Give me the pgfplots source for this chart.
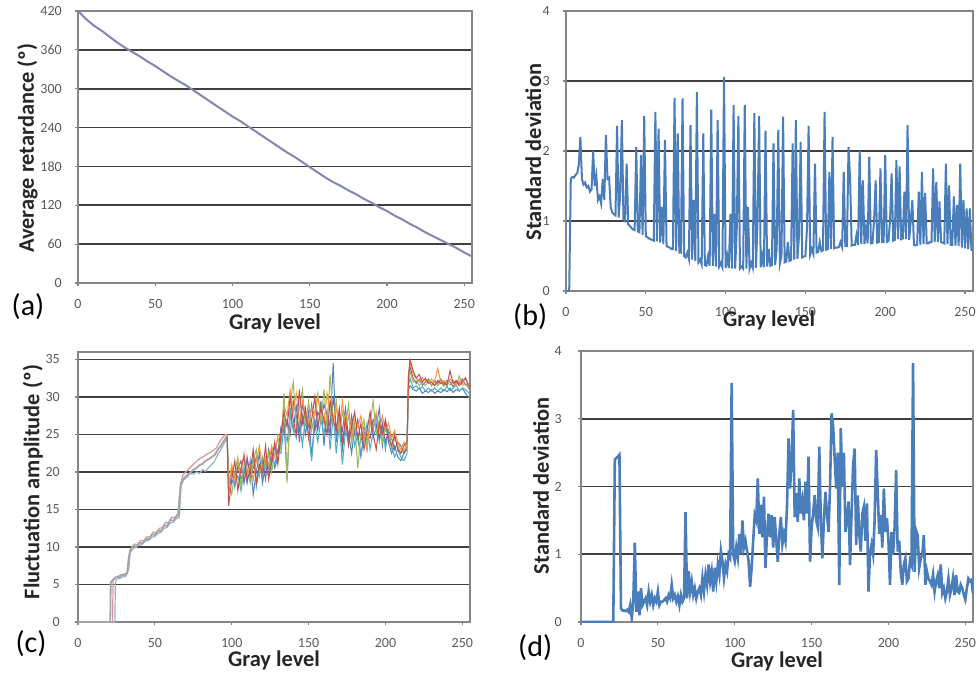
\documentclass[border=0pt]{standalone}
\usepackage{fontspec}
\setmainfont{Carlito}
\usepackage{pgfplots}
\pgfplotsset{compat=1.18}

\definecolor{xlblue}{HTML}{4A7EBB}
\definecolor{retline}{HTML}{8585B3}
\definecolor{gridc}{HTML}{404040}
\definecolor{axc}{HTML}{868686}
\definecolor{tickc}{HTML}{595959}
\definecolor{sA}{HTML}{4F81BD}
\definecolor{sB}{HTML}{C0504D}
\definecolor{sC}{HTML}{9BBB59}
\definecolor{sD}{HTML}{8064A2}
\definecolor{sE}{HTML}{4BACC6}
\definecolor{sF}{HTML}{F79646}
\definecolor{smA}{HTML}{A5A5A5}
\definecolor{smB}{HTML}{D99694}
\definecolor{smC}{HTML}{95B3D7}

\tikzset{letter/.style={font=\fontsize{15}{17}\selectfont, text=black}}
\pgfplotsset{
  panel/.style={
    scale only axis, anchor=south west,
    xmin=0, xmax=255, xtick={0,50,...,250}, ymin=0,
    tick align=outside, tick pos=left, major tick length=1.6pt,
    tick style={axc, line width=0.6pt},
    axis line style={axc, line width=0.6pt},
    ymajorgrids, grid style={gridc, line width=0.9pt},
    /pgf/number format/assume math mode=true,
    tick label style={font=\fontsize{7}{8}\selectfont, text=tickc},
    label style={font=\fontsize{11.2}{13}\selectfont\bfseries, text=black!85},
    xticklabel style={yshift=-3.3pt},
    yticklabel style={xshift=-3pt},
    xlabel={Gray level},
    clip mode=individual,
  },
}

\begin{document}
\begin{tikzpicture}
\path[use as bounding box] (0,0) rectangle (489.5pt,338pt);

% (a) average retardance
\begin{axis}[panel, at={(39pt,196.5pt)}, width=197pt, height=136pt,
  ymax=420, ytick={0,60,...,420},
  ylabel={Average retardance (º)},
  xlabel style={at={(axis description cs:0.5,-0.147)}, anchor=center},
  ylabel style={at={(axis description cs:-0.128,0.496)}, anchor=center}]
\addplot[retline, line width=1pt] coordinates {
(0,420) (5,408) (10,398) (15,390) (20,381) (25,372) (30,364) (35,357) (40,350)
(45,342) (50,335) (55,327) (60,319) (65,312) (70,305) (75,297) (80,289) (85,281)
(90,273) (95,265) (100,257) (105,250) (110,242) (115,234) (120,226) (125,218)
(130,210) (135,202) (140,195) (145,187) (150,179) (155,171) (160,163) (165,156)
(170,150) (175,143) (180,137) (185,130) (190,124) (195,117) (200,111) (205,104)
(210,98) (215,91) (220,85) (225,78) (230,72) (235,66) (240,60) (245,54) (250,47) (255,41)};
\node[letter] at (axis description cs:-0.127,-0.088) {(a)};
\end{axis}

% (b) standard deviation of retardance
\begin{axis}[panel, at={(283pt,192.5pt)}, width=203.5pt, height=140pt,
  ymax=4, ytick={0,1,...,4},
  ylabel={Standard deviation},
  xlabel style={at={(axis description cs:0.499,-0.104)}, anchor=center},
  ylabel style={at={(axis description cs:-0.08,0.496)}, anchor=center}]
\addplot[xlblue, line width=1pt] coordinates {
(0,0) (1,0) (2,0) (3,1.6) (4,1.63) (5,1.62) (6,1.66) (7,1.68) (8,1.8) (9,2.2) (10,1.6)
(11,1.52) (12,1.55) (13,1.48) (14,1.5) (15,1.42) (16,1.45) (17,2.0) (18,1.5) (19,1.65)
(20,1.3) (21,1.35) (22,1.25) (23,1.6) (24,1.3) (25,2.23) (26,1.6) (27,1.62) (28,1.2)
(29,1.12) (30,1.1) (31,1.08) (32,2.36) (33,1.05) (34,1.4) (35,2.44) (36,1.02) (37,1.0)
(38,1.82) (39,0.95) (40,0.93) (41,0.9) (42,0.88) (43,0.87) (44,2.06) (45,0.85) (46,0.84)
(47,1.94) (48,0.8) (49,2.5) (50,0.78) (51,0.77) (52,0.75) (53,0.74) (54,0.73) (55,0.72)
(56,2.56) (57,0.71) (58,2.32) (59,0.69) (60,1.2) (61,0.67) (62,2.16) (63,0.64) (64,0.63)
(65,0.62) (66,0.6) (67,0.6) (68,2.76) (69,0.57) (70,2.25) (71,0.55) (72,0.55) (73,2.75)
(74,0.5) (75,0.48) (76,0.55) (77,0.46) (78,2.37) (79,0.45) (80,1.3) (81,0.43) (82,2.84)
(83,0.41) (84,0.45) (85,0.38) (86,2.25) (87,0.37) (88,0.36) (89,0.5) (90,0.36) (91,2.59)
(92,0.36) (93,1.1) (94,0.35) (95,2.44) (96,0.35) (97,0.4) (98,0.34) (99,3.06) (100,0.33)
(101,0.5) (102,0.33) (103,1.1) (104,0.32) (105,2.66) (106,0.32) (107,0.9) (108,2.5)
(109,0.32) (110,0.35) (111,0.32) (112,2.66) (113,0.32) (114,1.2) (115,0.32) (116,0.4)
(117,0.33) (118,2.54) (119,0.33) (120,1.0) (121,2.5) (122,0.34) (123,0.5) (124,0.34)
(125,2.29) (126,0.35) (127,0.6) (128,0.36) (129,0.37) (130,2.11) (131,0.37) (132,0.6)
(133,2.3) (134,0.39) (135,0.5) (136,2.49) (137,0.41) (138,0.42) (139,0.7) (140,0.43)
(141,0.44) (142,2.11) (143,0.45) (144,2.44) (145,0.46) (146,0.8) (147,2.13) (148,0.48)
(149,0.49) (150,0.5) (151,0.9) (152,2.36) (153,0.52) (154,0.6) (155,0.53) (156,1.82)
(157,0.55) (158,0.56) (159,0.7) (160,0.57) (161,0.58) (162,2.56) (163,0.59) (164,0.6)
(165,1.7) (166,0.6) (167,2.2) (168,0.61) (169,0.62) (170,0.62) (171,0.63) (172,0.7)
(173,0.63) (174,1.7) (175,0.64) (176,0.64) (177,2.06) (178,1.6) (179,0.65) (180,0.66)
(181,0.66) (182,0.8) (183,0.66) (184,2.0) (185,0.67) (186,1.58) (187,0.67) (188,0.9)
(189,0.68) (190,1.92) (191,0.68) (192,0.68) (193,1.0) (194,1.58) (195,0.69) (196,0.7)
(197,1.75) (198,0.7) (199,0.7) (200,1.94) (201,0.7) (202,0.71) (203,1.0) (204,1.68)
(205,0.72) (206,0.73) (207,1.87) (208,0.74) (209,1.78) (210,0.74) (211,0.75) (212,1.42)
(213,0.74) (214,2.37) (215,0.73) (216,1.0) (217,1.3) (218,0.66) (219,0.65) (220,0.66)
(221,1.42) (222,0.66) (223,1.7) (224,0.67) (225,1.4) (226,0.68) (227,0.68) (228,0.7)
(229,0.7) (230,1.75) (231,0.7) (232,1.56) (233,0.7) (234,1.28) (235,0.7) (236,0.69)
(237,0.68) (238,1.82) (239,0.67) (240,1.51) (241,0.66) (242,0.66) (243,1.35) (244,0.65)
(245,1.23) (246,0.64) (247,1.82) (248,0.62) (249,1.3) (250,0.61) (251,1.18) (252,0.6)
(253,1.18) (254,0.59) (255,0.58)};
\node[letter] at (axis description cs:-0.088,-0.093) {(b)};
\end{axis}

% (c) fluctuation amplitude
\begin{axis}[panel, at={(39pt,27pt)}, width=196pt, height=135pt,
  ymax=36, ytick={0,5,...,35},
  yticklabel style={xshift=-1pt},
  ylabel={Fluctuation amplitude (º)},
  xlabel style={at={(axis description cs:0.5,-0.144)}, anchor=center},
  ylabel style={at={(axis description cs:-0.115,0.518)}, anchor=center}]
\addplot[smC, line width=0.6pt] coordinates {
(0,0) (24,0) (24.3,5.2) (25,5.7) (27,5.8) (29,6.0) (31,6.1) (33,7.0) (34,9.3) (36,9.8)
(38,10.1) (40,10.2) (42,10.4) (44,10.8) (46,10.9) (48,11.3) (50,11.4) (52,11.8) (54,12.0)
(56,12.5) (58,12.6) (60,13.2) (62,13.3) (64,13.8) (66,14.0) (67,18.2) (69,19.0) (71,19.3)
(73,19.8) (75,19.7) (77,20.0) (79,19.8) (81,20.3) (83,20.1) (85,20.6) (87,21.0) (89,21.5)
(91,22.4) (93,23.0) (95,23.8) (97,24.5)};
\addplot[smB, line width=0.6pt] coordinates {
(0,0) (22.5,0) (22.8,5.5) (24,5.9) (26,6.1) (28,6.3) (30,6.4) (32,6.5) (33.5,9.2) (35,10.0)
(37,10.4) (39,10.3) (41,10.9) (43,10.8) (45,11.4) (47,11.3) (49,12.0) (51,11.9) (53,12.5)
(55,12.6) (57,13.3) (59,13.2) (61,14.0) (63,13.9) (65,14.5) (66.5,18.0) (68,19.5) (70,20.0)
(72,20.4) (74,20.8) (76,21.2) (78,21.6) (80,21.9) (82,22.1) (84,22.4) (86,22.6) (88,22.9)
(90,23.2) (92,24.0) (94,24.6) (96,25.0) (97,25.0)};
\addplot[smA, line width=0.9pt] coordinates {
(0,0) (21,0) (21.3,5.3) (23,5.7) (25,6.0) (27,6.0) (29,6.3) (31,6.2) (32,6.6) (33,8.5)
(34,9.6) (36,10.2) (38,10.0) (40,10.6) (42,10.5) (44,11.1) (46,11.0) (48,11.7) (50,11.6)
(52,12.2) (54,12.1) (56,12.9) (58,12.8) (60,13.6) (62,13.5) (64,14.1) (65,14.2) (66,16.0)
(67,18.6) (69,19.2) (71,19.6) (73,19.9) (75,20.3) (77,20.5) (79,20.9) (81,21.1) (83,21.5)
(85,21.7) (87,22.0) (89,22.3) (91,23.0) (93,23.5) (95,24.2) (97,24.8)};
\addplot[sA, line width=0.5pt] coordinates {
(97,24.8) (98,17.5) (100,20.5) (102,18.0) (104,21.0) (106,19.0) (108,20.5) (110,18.5)
(112,21.5) (114,17.0) (116,20.0) (118,22.5) (120,18.5) (122,21.0) (124,19.5) (126,23.0)
(128,20.5) (130,22.0) (132,24.0) (134,27.0) (136,19.0) (138,28.5) (140,25.5) (142,29.0)
(144,24.0) (146,27.5) (148,25.0) (150,28.0) (152,22.0) (154,27.0) (156,25.5) (158,29.5)
(160,23.5) (162,28.0) (164,26.0) (166,34.5) (168,24.0) (170,27.5) (172,23.0) (174,26.5)
(176,25.0) (178,22.5) (180,26.0) (182,24.5) (184,22.0) (186,25.5) (188,23.0) (190,27.0)
(192,24.5) (194,26.0) (196,28.5) (198,23.5) (200,26.5) (202,24.0) (204,22.5) (206,23.5)
(208,22.0) (210,21.5) (212,22.5) (214,23.0) (215,31.0) (216,31.5) (218,31.0) (220,30.8)
(222,31.2) (224,30.5) (226,30.8) (228,30.6) (230,31.0) (232,30.5) (234,30.8) (236,30.6)
(238,31.0) (240,30.7) (242,31.2) (244,30.6) (246,31.0) (248,30.8) (250,31.2) (252,30.5)
(254,30.0) (255,29.8)};
\addplot[sE, line width=0.5pt] coordinates {
(97,24.6) (98,17.0) (100,20.0) (102,18.5) (104,19.5) (106,17.5) (108,20.0) (110,21.5)
(112,19.0) (114,22.0) (116,18.0) (118,20.5) (120,19.5) (122,21.5) (124,20.5) (126,22.0)
(128,21.0) (130,23.0) (132,22.5) (134,26.0) (136,24.0) (138,27.5) (140,26.0) (142,24.5)
(144,27.0) (146,23.5) (148,27.5) (150,25.0) (152,21.5) (154,26.5) (156,24.0) (158,27.0)
(160,25.0) (162,28.0) (164,23.0) (166,27.5) (168,22.5) (170,26.5) (172,21.0) (174,25.5)
(176,24.0) (178,26.5) (180,23.5) (182,25.0) (184,22.5) (186,24.0) (188,26.5) (190,23.0)
(192,25.5) (194,27.5) (196,24.0) (198,26.0) (200,23.0) (202,25.5) (204,23.5) (206,22.0)
(208,23.0) (210,22.0) (212,21.5) (214,22.5) (215,31.5) (216,32.5) (218,31.2) (220,31.5)
(222,31.0) (224,31.4) (226,30.8) (228,31.2) (230,30.8) (232,31.2) (234,30.8) (236,31.2)
(238,30.8) (240,31.4) (242,30.8) (244,31.2) (246,31.6) (248,30.8) (250,31.2) (252,31.0)
(254,30.6) (255,30.4)};
\addplot[sD, line width=0.5pt] coordinates {
(97,24.9) (98,19.0) (100,18.5) (102,19.5) (104,20.5) (106,21.5) (108,18.5) (110,22.0)
(112,19.5) (114,20.5) (116,22.0) (118,20.0) (120,21.5) (122,19.0) (124,23.0) (126,21.0)
(128,23.5) (130,22.5) (132,26.0) (134,25.5) (136,27.0) (138,25.0) (140,29.5) (142,27.5)
(144,25.5) (146,29.0) (148,27.0) (150,26.0) (152,29.0) (154,25.5) (156,28.0) (158,27.0)
(160,29.0) (162,27.5) (164,25.0) (166,30.0) (168,26.0) (170,27.0) (172,25.5) (174,28.5)
(176,24.5) (178,27.5) (180,25.0) (182,27.0) (184,24.0) (186,26.0) (188,25.0) (190,24.5)
(192,27.0) (194,26.0) (196,24.5) (198,26.5) (200,24.0) (202,25.5) (204,24.5) (206,23.0)
(208,24.0) (210,23.5) (212,22.5) (214,23.5) (215,32.5) (216,34.0) (218,32.5) (220,31.8)
(222,32.4) (224,31.6) (226,32.0) (228,32.4) (230,31.5) (232,32.2) (234,31.8) (236,32.4)
(238,31.6) (240,32.2) (242,32.0) (244,31.4) (246,32.0) (248,31.8) (250,32.4) (252,31.6)
(254,31.8) (255,31.2)};
\addplot[sC, line width=0.5pt] coordinates {
(97,24.8) (98,18.5) (100,17.0) (102,20.0) (104,22.0) (106,18.0) (108,21.0) (110,20.5)
(112,18.5) (114,21.5) (116,23.0) (118,19.5) (120,22.0) (122,20.5) (124,22.5) (126,20.0)
(128,22.5) (130,24.5) (132,23.0) (134,30.5) (136,18.5) (138,29.0) (140,32.0) (142,26.0)
(144,28.5) (146,31.0) (148,26.0) (150,29.5) (152,25.5) (154,28.0) (156,30.5) (158,26.5)
(160,31.0) (162,26.0) (164,33.0) (166,26.5) (168,29.5) (170,25.0) (172,28.0) (174,26.0)
(176,29.0) (178,24.0) (180,26.5) (182,20.5) (184,25.0) (186,27.0) (188,24.0) (190,26.5)
(192,29.5) (194,25.0) (196,27.0) (198,24.0) (200,26.0) (202,25.5) (204,23.0) (206,24.5)
(208,23.5) (210,22.5) (212,23.0) (214,23.5) (215,32.0) (216,33.5) (218,32.0) (220,32.2)
(222,31.5) (224,32.0) (226,31.5) (228,32.2) (230,31.6) (232,32.0) (234,31.5) (236,32.0)
(238,31.4) (240,32.0) (242,31.6) (244,32.2) (246,31.5) (248,32.8) (250,31.6) (252,31.8)
(254,31.2) (255,30.8)};
\addplot[sF, line width=0.5pt] coordinates {
(97,25.0) (98,18.0) (100,21.0) (102,19.0) (104,21.5) (106,20.0) (108,22.5) (110,19.5)
(112,21.0) (114,19.0) (116,21.5) (118,23.5) (120,20.5) (122,22.0) (124,21.0) (126,23.5)
(128,22.0) (130,25.0) (132,24.5) (134,29.0) (136,27.5) (138,31.0) (140,28.0) (142,30.5)
(144,26.5) (146,29.5) (148,28.0) (150,26.5) (152,28.5) (154,27.5) (156,30.0) (158,28.0)
(160,26.5) (162,30.5) (164,28.0) (166,26.5) (168,28.5) (170,26.0) (172,29.5) (174,25.5)
(176,27.5) (178,25.0) (180,27.0) (182,26.0) (184,27.5) (186,25.0) (188,23.0) (190,26.5)
(192,26.0) (194,28.0) (196,25.5) (198,27.5) (200,25.5) (202,26.5) (204,24.5) (206,25.5)
(208,24.0) (210,23.0) (212,24.0) (214,23.0) (215,33.0) (216,34.5) (218,33.0) (220,32.5)
(222,32.0) (224,32.6) (226,32.2) (228,31.8) (230,32.4) (232,32.0) (234,33.8) (236,32.0)
(238,32.2) (240,31.8) (242,32.4) (244,32.0) (246,31.6) (248,32.2) (250,31.8) (252,32.6)
(254,31.6) (255,31.4)};
\addplot[sB, line width=0.5pt] coordinates {
(97,24.7) (98,15.5) (100,19.0) (102,21.5) (104,17.5) (106,20.5) (108,22.0) (110,19.0)
(112,20.0) (114,23.0) (116,18.5) (118,21.0) (120,20.0) (122,23.5) (124,19.0) (126,21.5)
(128,24.0) (130,21.0) (132,25.0) (134,28.0) (136,26.0) (138,30.0) (140,27.0) (142,25.0)
(144,31.0) (146,26.5) (148,28.5) (150,24.5) (152,27.0) (154,30.0) (156,26.0) (158,28.5)
(160,27.0) (162,25.0) (164,29.5) (166,27.0) (168,25.5) (170,28.5) (172,24.0) (174,27.0)
(176,23.5) (178,26.0) (180,28.0) (182,24.5) (184,26.5) (186,23.0) (188,25.5) (190,28.0)
(192,25.0) (194,23.0) (196,26.5) (198,25.0) (200,27.0) (202,24.5) (204,23.5) (206,25.0)
(208,23.0) (210,22.5) (212,23.5) (214,24.0) (215,33.0) (216,35.0) (218,33.5) (220,32.5)
(222,33.0) (224,32.0) (226,32.5) (228,31.8) (230,32.0) (232,31.5) (234,32.2) (236,31.8)
(238,32.0) (240,31.5) (242,33.5) (244,31.8) (246,32.2) (248,31.5) (250,32.0) (252,32.5)
(254,31.5) (255,31.0)};
\node[letter] at (axis description cs:-0.12,-0.081) {(c)};
\end{axis}

% (d) standard deviation of fluctuation amplitude
\begin{axis}[panel, at={(290.5pt,27pt)}, width=196pt, height=135.5pt,
  ymax=4, ytick={0,1,...,4},
  yticklabel style={xshift=-1.5pt},
  ylabel={Standard deviation},
  xlabel style={at={(axis description cs:0.5,-0.144)}, anchor=center},
  ylabel style={at={(axis description cs:-0.102,0.502)}, anchor=center}]
\addplot[xlblue, line width=1.3pt] coordinates {
(0,0) (21,0) (22,2.4) (23,2.42) (24,2.44) (25,2.47) (26,0.2) (27,0.17) (28,0.17) (29,0.16)
(30,0.18) (31,0.15) (32,0.25) (33,0.06) (34,0.3) (35,1.17) (36,0.15) (37,0.45) (38,0.1)
(39,0.5) (40,0.25) (41,0.3) (42,0.35) (43,0.25) (44,0.45) (45,0.3) (46,0.4) (47,0.25)
(48,0.35) (49,0.3) (50,0.45) (51,0.25) (52,0.3) (53,0.3) (54,0.32) (55,0.35) (56,0.3)
(57,0.4) (58,0.35) (59,0.55) (60,0.35) (61,0.4) (62,0.3) (63,0.38) (64,0.25) (65,0.4)
(66,0.3) (67,0.35) (68,1.62) (69,0.35) (70,0.75) (71,0.45) (72,0.6) (73,0.4) (74,0.5)
(75,0.35) (76,0.45) (77,0.5) (78,0.4) (79,0.65) (80,0.45) (81,0.7) (82,0.55) (83,0.85)
(84,0.6) (85,0.75) (86,0.45) (87,0.8) (88,0.6) (89,0.85) (90,0.7) (91,1.05) (92,0.9)
(93,0.65) (94,0.85) (95,0.75) (96,1.0) (97,0.95) (98,3.53) (99,1.0) (100,0.9) (101,1.1)
(102,0.95) (103,1.3) (104,1.0) (105,1.5) (106,1.1) (107,1.2) (108,1.05) (109,0.9)
(110,0.52) (111,0.8) (112,1.2) (113,1.58) (114,1.5) (115,2.12) (116,1.3) (117,1.73)
(118,1.25) (119,1.85) (120,0.8) (121,1.3) (122,1.6) (123,1.25) (124,1.58) (125,1.1)
(126,1.55) (127,1.2) (128,0.89) (129,1.3) (130,1.55) (131,1.15) (132,1.3) (133,1.19)
(134,1.7) (135,2.71) (136,1.97) (137,2.4) (138,3.13) (139,1.55) (140,1.9) (141,1.48)
(142,2.12) (143,1.6) (144,1.78) (145,1.5) (146,2.07) (147,1.6) (148,2.44) (149,0.89)
(150,1.4) (151,1.6) (152,1.87) (153,1.5) (154,1.4) (155,2.59) (156,1.5) (157,0.94)
(158,1.5) (159,1.92) (160,1.6) (161,1.33) (162,2.0) (163,3.08) (164,2.9) (165,2.42)
(166,1.97) (167,2.5) (168,0.55) (169,2.86) (170,2.0) (171,2.5) (172,1.33) (173,1.5)
(174,1.78) (175,0.84) (176,1.6) (177,2.32) (178,2.56) (179,1.14) (180,1.87) (181,1.3)
(182,1.04) (183,1.6) (184,1.7) (185,1.2) (186,1.75) (187,0.45) (188,1.0) (189,1.14)
(190,1.0) (191,1.5) (192,2.54) (193,1.92) (194,1.3) (195,1.58) (196,1.1) (197,1.97)
(198,1.33) (199,1.53) (200,1.2) (201,0.55) (202,1.33) (203,0.99) (204,1.4) (205,2.24)
(206,1.04) (207,1.2) (208,0.74) (209,0.55) (210,0.85) (211,0.94) (212,0.6) (213,0.64)
(214,0.9) (215,0.84) (216,3.82) (217,0.74) (218,1.35) (219,1.28) (220,0.8) (221,0.94)
(222,1.0) (223,1.28) (224,0.55) (225,0.75) (226,0.64) (227,0.6) (228,0.55) (229,0.7)
(230,0.45) (231,0.6) (232,0.69) (233,0.5) (234,0.85) (235,0.43) (236,0.5) (237,0.35)
(238,0.45) (239,0.64) (240,0.4) (241,0.5) (242,0.65) (243,0.4) (244,0.69) (245,0.45)
(246,0.43) (247,0.55) (248,0.5) (249,0.4) (250,0.33) (251,0.5) (252,0.64) (253,0.6)
(254,0.62) (255,0.42)};
\node[letter] at (axis description cs:-0.117,-0.096) {(d)};
\end{axis}
\end{tikzpicture}
\end{document}
